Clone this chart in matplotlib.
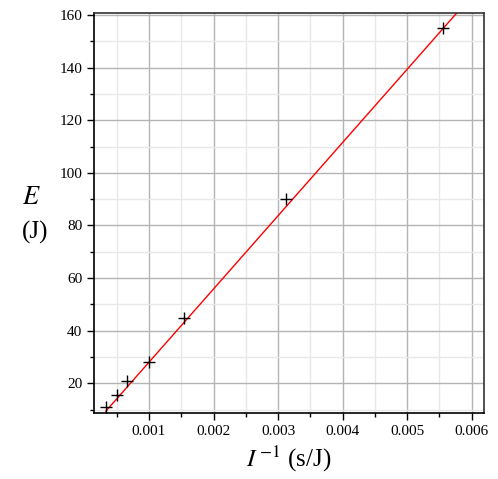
import numpy as np
import matplotlib
matplotlib.use("Agg")
import matplotlib.pyplot as plt
from matplotlib.ticker import MultipleLocator

# measured points
inv_I = [0.000338, 0.000508, 0.00066, 0.001, 0.00155, 0.00312, 0.00555]
E = [11.0, 15.5, 21, 28, 45, 90, 155]

# fitted line
slope = 27850.0
intercept = 0.15
line_x = [0.000333, 0.0062]

plt.rcParams["font.family"] = ["Liberation Serif", "DejaVu Serif"]
plt.rcParams["mathtext.fontset"] = "stix"

fig = plt.figure(figsize=(4.98, 4.79), dpi=100)
ax = fig.add_axes([0.1888, 0.1378, 0.7831, 0.8351])

ax.xaxis.set_major_locator(MultipleLocator(0.001))
ax.xaxis.set_minor_locator(MultipleLocator(0.0005))
ax.yaxis.set_major_locator(MultipleLocator(20))
ax.yaxis.set_minor_locator(MultipleLocator(10))
ax.grid(which="major", color="#b4b4b4", lw=1.0)
ax.grid(which="minor", color="#e8e8e8", lw=1.0)
ax.set_axisbelow(True)

lx = np.array(line_x)
ax.plot(lx, slope * lx + intercept, color="red", lw=1.0)
ax.plot(inv_I, E, ls="none", marker="+", color="black", ms=9, mew=1.0)

ax.set_xlim(0.000149, 0.00619)
ax.set_ylim(8.7, 160.8)

ax.tick_params(which="major", direction="out", length=5, width=1, labelsize=11, colors="black")
ax.tick_params(which="minor", direction="out", length=3, width=1)
ax.set_xticklabels([f"{v:.3f}" for v in ax.get_xticks()])
for s in ["left", "bottom"]:
    ax.spines[s].set_color("black")
    ax.spines[s].set_linewidth(1.2)
for s in ["top", "right"]:
    ax.spines[s].set_color("#333333")
    ax.spines[s].set_linewidth(1.2)

ax.set_xlabel(r"$I^{\,\mathrm{-1}}$ (s/J)", fontsize=18, labelpad=4)
fig.text(0.062, 0.587, r"$E$", fontsize=19, ha="center", va="center")
fig.text(0.07, 0.515, "(J)", fontsize=18, ha="center", va="center")

fig.savefig("out.png", dpi=100)
